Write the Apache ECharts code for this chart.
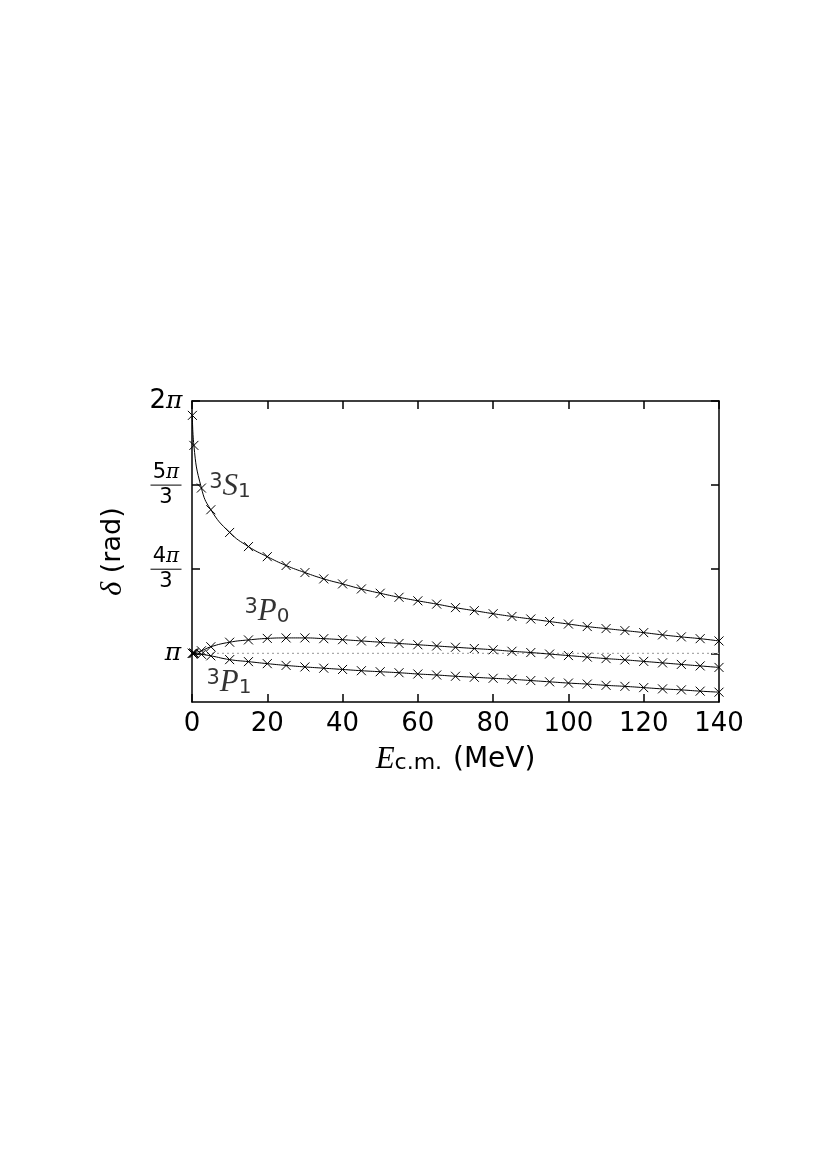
<!DOCTYPE html>
<html>
<head>
<meta charset="utf-8">
<script src="https://cdn.jsdelivr.net/npm/echarts@6/dist/echarts.min.js"></script>
<style>
html,body{margin:0;padding:0;background:#fff;}
#chart{width:828px;height:1170px;}
</style>
</head>
<body>
<div id="chart"></div>
<script>
// Energy E_c.m. (MeV)
const energies = [0.1, 0.5, 2.5, 5, 10, 15, 20, 25, 30, 35, 40, 45, 50, 55, 60, 65, 70, 75, 80, 85, 90, 95, 100, 105, 110, 115, 120, 125, 130, 135, 140];
// Phase shifts, in units of pi
const s1 = [1.943, 1.824, 1.655, 1.569, 1.479, 1.423, 1.383, 1.348, 1.320, 1.295, 1.275, 1.255, 1.238, 1.222, 1.208, 1.195, 1.181, 1.169, 1.157, 1.146, 1.136, 1.126, 1.116, 1.106, 1.098, 1.090, 1.082, 1.073, 1.065, 1.058, 1.049];
const p0 = [1.000, 1.002, 1.010, 1.026, 1.044, 1.053, 1.059, 1.061, 1.061, 1.058, 1.054, 1.049, 1.044, 1.039, 1.034, 1.029, 1.024, 1.019, 1.014, 1.008, 1.003, 0.997, 0.991, 0.985, 0.979, 0.974, 0.968, 0.962, 0.956, 0.950, 0.944];
const p1 = [1.000, 0.999, 0.996, 0.990, 0.975, 0.967, 0.959, 0.952, 0.946, 0.941, 0.936, 0.931, 0.927, 0.923, 0.918, 0.914, 0.909, 0.905, 0.901, 0.897, 0.892, 0.887, 0.882, 0.878, 0.873, 0.869, 0.864, 0.859, 0.855, 0.850, 0.846];
// Tick values (units of pi) and their labels
const yTicks = [1, 4/3, 5/3, 2];
const yTickLabels = ['{pis|π}', '{n|4}{npi|π}\n{bar| }\n{n|3}', '{n|5}{npi|π}\n{bar| }\n{n|3}', '{n2|2}{pi|π}'];
const seriesNames = ['3S1', '3P0', '3P1'];

const chart = echarts.init(document.getElementById('chart'), null, {renderer: 'canvas'});
const SANS = 'DejaVu Sans';
const SERIF = 'DejaVu Serif';
const MSERIF = 'Liberation Serif';

const cross = 'path://M0,0L10,10M10,0L0,10';
function curve(name, ys) {
  return {
    name: name, type: 'line', smooth: 0.5,
    data: energies.map((e, i) => [e, ys[i]]),
    symbol: cross, symbolSize: 9, showAllSymbol: true,
    lineStyle: {color: '#000', width: 1},
    itemStyle: {color: '#000', borderColor: '#000', borderWidth: 1},
    z: 3, silent: true, animation: false
  };
}
const labRich = {
  sup: {fontFamily: SANS, fontSize: 21, lineHeight: 16, verticalAlign: 'top', color: '#000'},
  it: {fontFamily: MSERIF, fontStyle: 'italic', fontSize: 31, lineHeight: 30, color: '#000'},
  sub: {fontFamily: SANS, fontSize: 20, lineHeight: 18, verticalAlign: 'bottom', color: '#000'}
};
const labelTexts = {
  '3S1': '{sup|3}{it|S}{sub|1}',
  '3P0': '{sup|3}{it|P}{sub|0}',
  '3P1': '{sup|3}{it|P}{sub|1}'
};
const lineAx = {show: true, onZero: false, lineStyle: {color: '#000', width: 1.5}};

const option = {
  animation: false,
  backgroundColor: '#fff',
  grid: {left: 192, right: 109, top: 401, bottom: 468, containLabel: false},
  xAxis: [{
    type: 'value', min: 0, max: 140, interval: 20, position: 'bottom',
    axisLine: lineAx,
    axisTick: {show: true, inside: true, length: 8, lineStyle: {color: '#000', width: 1.5}},
    splitLine: {show: false},
    axisLabel: {fontFamily: SANS, fontSize: 26, color: '#000', margin: 9},
    name: '{e|E}{cm|c.m.} (MeV)', nameLocation: 'middle', nameGap: 42,
    nameTextStyle: {fontFamily: SANS, fontSize: 28, color: '#000',
      rich: {e: {fontFamily: MSERIF, fontStyle: 'italic', fontSize: 31, color: '#000'},
             cm: {fontFamily: SANS, fontSize: 22, color: '#000', padding: [8, 2, 0, 0]}}}
  }, {
    type: 'value', min: 0, max: 140, interval: 20, position: 'top',
    axisLine: lineAx,
    axisTick: {show: true, inside: true, length: 8, lineStyle: {color: '#000', width: 1.5}},
    splitLine: {show: false}, axisLabel: {show: false}
  }],
  yAxis: [{
    type: 'value', min: 0.807, max: 2, position: 'left',
    axisLine: lineAx,
    axisTick: {show: true, inside: true, length: 8, customValues: yTicks, lineStyle: {color: '#000', width: 1.5}},
    splitLine: {show: false},
    axisLabel: {
      customValues: yTicks, align: 'center', margin: 26, color: '#000',
      formatter: function (v) {
        for (let i = 0; i < yTicks.length; i++) if (Math.abs(v - yTicks[i]) < 1e-6) return yTickLabels[i];
        return '';
      },
      rich: {
        n2: {fontFamily: SANS, fontSize: 26, color: '#000'},
        pi: {fontFamily: SERIF, fontStyle: 'italic', fontSize: 25, color: '#000'},
        pis: {fontFamily: SERIF, fontStyle: 'italic', fontSize: 25, color: '#000', padding: [0, 0, 0, 14]},
        n: {fontFamily: SANS, fontSize: 21, lineHeight: 20, color: '#000'},
        npi: {fontFamily: SERIF, fontStyle: 'italic', fontSize: 20, lineHeight: 20, color: '#000'},
        bar: {width: 31, height: 1, lineHeight: 5, fontSize: 1, backgroundColor: '#000'}
      }
    },
    name: '{d|δ} (rad)', nameLocation: 'middle', nameGap: 64, nameRotate: 90,
    nameTextStyle: {fontFamily: SANS, fontSize: 27, color: '#000',
      rich: {d: {fontFamily: MSERIF, fontStyle: 'italic', fontSize: 30, color: '#000'}}}
  }, {
    type: 'value', min: 0.807, max: 2, position: 'right',
    axisLine: lineAx,
    axisTick: {show: true, inside: true, length: 8, customValues: yTicks, lineStyle: {color: '#000', width: 1.5}},
    splitLine: {show: false}, axisLabel: {show: false}
  }],
  series: [
    {
      type: 'line', name: 'pi', data: [[0, 1], [140, 1]], symbol: 'none',
      lineStyle: {color: '#aaa', width: 1.2, type: [2, 3]}, z: 1, silent: true
    },
    curve(seriesNames[0], s1),
    curve(seriesNames[1], p0),
    curve(seriesNames[2], p1),
    {
      type: 'scatter', name: 'labels', symbolSize: 0, silent: true, z: 5,
      data: [
        {value: [10.1, 1.660], name: '3S1'},
        {value: [19.9, 1.164], name: '3P0'},
        {value: [9.8, 0.882], name: '3P1'}
      ],
      label: {
        show: true, position: [0, 0], align: 'center', verticalAlign: 'middle', color: '#000',
        formatter: function (p) { return labelTexts[p.name]; },
        rich: labRich
      }
    }
  ]
};
chart.setOption(option);
</script>
</body>
</html>
